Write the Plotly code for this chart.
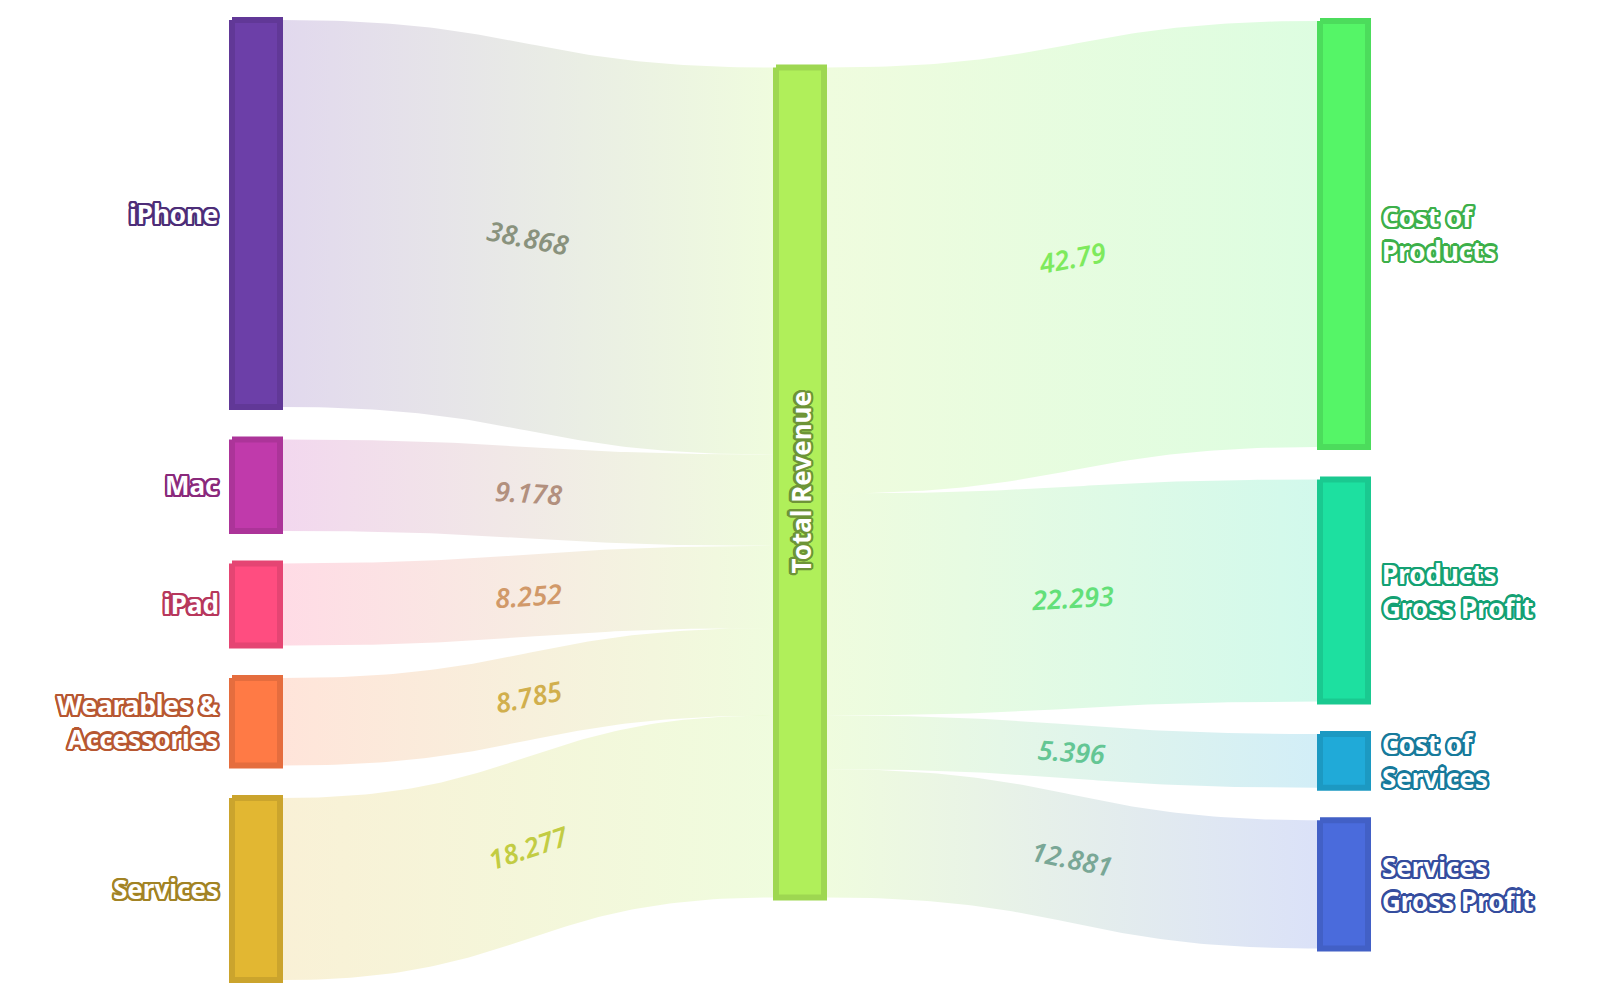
import math
import numpy as np
import plotly.graph_objects as go

# ---------------- data ----------------
source_labels = ["iPhone", "Mac", "iPad", "Wearables &<br>Accessories", "Services"]
source_values = [38.868, 9.178, 8.252, 8.785, 18.277]
source_colors = ["#6c3fa8", "#c03aab", "#ff4d80", "#ff7a45", "#e2b732"]

middle_label = "Total Revenue"
middle_color = "#b0ef5a"

target_labels = ["Cost of<br>Products", "Products<br>Gross Profit", "Cost of<br>Services", "Services<br>Gross Profit"]
target_values = [42.79, 22.293, 5.396, 12.881]
target_colors = ["#55f567", "#1de0a0", "#20aad8", "#4a6bdc"]

# ---------------- layout constants ----------------
W, H = 1600, 1000
page_offset = 8               # default body margin of the html page
col_x = [256, 800, 1344]      # node column centres
node_w = 48                   # node rect width (border drawn centred on edge)
border = 6
half = node_w / 2 + border / 2
gap = 32.5
top_left, bottom_left = 20, 980
mid_center = 482.5
right_center = 484.75
link_alpha = 0.2


def rgb(h):
    h = h.lstrip("#")
    return tuple(int(h[i:i + 2], 16) for i in (0, 2, 4))


def rgba(h, a):
    r, g, b = rgb(h)
    return f"rgba({r},{g},{b},{a})"


def scale(h, f):
    r, g, b = rgb(h)
    return f"rgb({int(r * f)},{int(g * f)},{int(b * f)})"


def mix(h1, h2, f=1.0):
    a, b = rgb(h1), rgb(h2)
    return "rgb(%d,%d,%d)" % tuple(int((x + y) / 2 * f) for x, y in zip(a, b))


def outline(c, r=2.3, n=16):
    parts = []
    for i in range(n):
        t = 2 * math.pi * i / n
        parts.append(f"{r * math.cos(t):.2f}px {r * math.sin(t):.2f}px 0 {c}")
    return ", ".join(parts)


total = sum(source_values)
k = (bottom_left - top_left - gap * (len(source_values) - 1)) / total


def stack(values, start):
    out = []
    y = start
    for v in values:
        out.append((y, y + v * k))
        y += v * k + gap
    return out


left_nodes = stack(source_values, top_left)
right_span = sum(target_values) * k + gap * (len(target_values) - 1)
right_nodes = stack(target_values, right_center - right_span / 2)
mid_top = mid_center - total * k / 2
mid_node = (mid_top, mid_top + total * k)

fig = go.Figure()

T = np.linspace(0, 1, 80)


def add_link(x0, y0a, y0b, x1, y1a, y1b, c0, c1, value):
    xm = (x0 + x1) / 2
    xs = x0 * (1 - T) ** 3 + 3 * xm * (1 - T) ** 2 * T + 3 * xm * (1 - T) * T ** 2 + x1 * T ** 3
    s = 3 * T ** 2 - 2 * T ** 3
    top = y0a + (y1a - y0a) * s
    bot = y0b + (y1b - y0b) * s
    px = np.concatenate([xs, xs[::-1], xs[:1]])
    py = np.concatenate([top, bot[::-1], top[:1]])
    fig.add_trace(go.Scatter(
        x=px, y=py, mode="lines", line=dict(width=0), fill="toself",
        fillgradient=dict(type="horizontal",
                          colorscale=[[0, rgba(c0, link_alpha)], [1, rgba(c1, link_alpha)]]),
        hoverinfo="skip", showlegend=False))
    ya = (y0a + y0b) / 2
    yb = (y1a + y1b) / 2
    ang = math.degrees(math.atan2(2 * (yb - ya), x1 - x0))
    fig.add_annotation(x=(x0 + x1) / 2, y=(ya + yb) / 2, xref="x", yref="y",
                       text=f"{value:g}", showarrow=False, textangle=ang,
                       font=dict(family="Noto Sans", size=27, style="italic", weight=600,
                                 color=mix(c0, c1, 0.97)))


# incoming links
my = mid_node[0]
for (ya, yb), v, c in zip(left_nodes, source_values, source_colors):
    h = v * k
    add_link(col_x[0] + half, ya, yb, col_x[1] - half, my, my + h, c, middle_color, v)
    my += h

# outgoing links
my = mid_node[0]
for (ya, yb), v, c in zip(right_nodes, target_values, target_colors):
    h = v * k
    add_link(col_x[1] + half, my, my + h, col_x[2] - half, ya, yb, middle_color, c, v)
    my += h


def add_node(xc, y0, y1, color):
    xa, xb = xc - node_w / 2, xc + node_w / 2
    fig.add_trace(go.Scatter(
        x=[xa, xb, xb, xa, xa], y=[y0, y0, y1, y1, y0], mode="lines",
        fill="toself", fillcolor=color,
        line=dict(color=scale(color, 0.9), width=border),
        hoverinfo="skip", showlegend=False))


label_font = dict(family="Noto Sans", size=26, color="white", weight=700)

for (ya, yb), lab, c in zip(left_nodes, source_labels, source_colors):
    add_node(col_x[0], ya, yb, c)
    fig.add_annotation(x=col_x[0] - half - 8, y=(ya + yb) / 2, xref="x", yref="y",
                       text=lab, showarrow=False, xanchor="right", align="right",
                       font=dict(label_font, shadow=outline(scale(c, 0.72))))

add_node(col_x[1], mid_node[0], mid_node[1], middle_color)
fig.add_annotation(x=col_x[1], y=(mid_node[0] + mid_node[1]) / 2, xref="x", yref="y",
                   text=middle_label, showarrow=False, textangle=-90,
                   font=dict(label_font, shadow=outline(scale(middle_color, 0.62))))

for (ya, yb), lab, c in zip(right_nodes, target_labels, target_colors):
    add_node(col_x[2], ya, yb, c)
    fig.add_annotation(x=col_x[2] + half + 9, y=(ya + yb) / 2, xref="x", yref="y",
                       text=lab, showarrow=False, xanchor="left", align="left",
                       font=dict(label_font, shadow=outline(scale(c, 0.72))))

fig.update_layout(
    width=W, height=H, margin=dict(l=0, r=0, t=0, b=0),
    paper_bgcolor="white", plot_bgcolor="white",
    xaxis=dict(range=[page_offset, W + page_offset], visible=False, fixedrange=True),
    yaxis=dict(range=[H + page_offset, page_offset], visible=False, fixedrange=True),
    showlegend=False,
)

fig.write_html("out.html")
